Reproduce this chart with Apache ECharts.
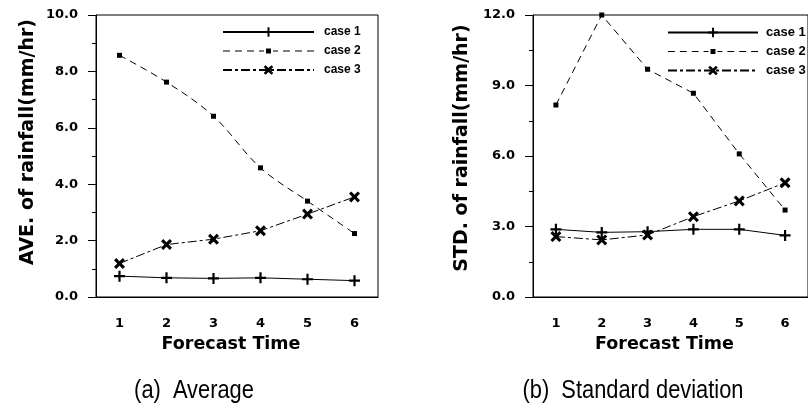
<!DOCTYPE html>
<html><head><meta charset="utf-8">
<script src="https://cdn.jsdelivr.net/npm/echarts@6/dist/echarts.min.js"></script>
<style>html,body{margin:0;padding:0;background:#fff}#c{width:808px;height:410px}</style>
</head><body><div id="c"></div>
<script>
const categories = ['1','2','3','4','5','6'];
const seriesNames = ['case 1','case 2','case 3'];
const aveCase1 = [0.74, 0.68, 0.66, 0.68, 0.63, 0.58];
const aveCase2 = [8.57, 7.62, 6.41, 4.58, 3.40, 2.25];
const aveCase3 = [1.19, 1.86, 2.05, 2.35, 2.94, 3.55];
const stdCase1 = [2.88, 2.75, 2.78, 2.88, 2.88, 2.62];
const stdCase2 = [8.17, 12.0, 9.69, 8.67, 6.09, 3.70];
const stdCase3 = [2.57, 2.43, 2.64, 3.42, 4.09, 4.86];
const aveTicks = {min: 0, max: 10, interval: 2};
const stdTicks = {min: 0, max: 12, interval: 3};
const xTitle = 'Forecast Time';
const aveTitle = 'AVE. of rainfall(mm/hr)';
const stdTitle = 'STD. of rainfall(mm/hr)';
const captionA = '(a)  Average';
const captionB = '(b)  Standard deviation';

const PLUS = 'path://M4,0 H6 V4 H10 V6 H6 V10 H4 V6 H0 V4 H4 Z';
const CROSS = 'path://M0,2 L2,0 L5,3 L8,0 L10,2 L7,5 L10,8 L8,10 L5,7 L2,10 L0,8 L3,5 Z';
// legend icon for case 2: dashed line with a small square in the middle
const DASH_SQ = 'path://M0,5.5h7v1h-7z M12,5.5h7v1h-7z M24,5.5h7v1h-7z M36,5.5h5v1h-5z M43,3.5h5v5h-5z M50,5.5h5v1h-5z M60,5.5h7v1h-7z M72,5.5h7v1h-7z M84,5.5h7v1h-7z';
const BOLD = "'DejaVu Sans', sans-serif";
const SANS = "'Liberation Sans', Arial, sans-serif";

function xAxis(gi) {
  return {
    type: 'category', gridIndex: gi, data: categories, boundaryGap: true,
    name: xTitle, nameLocation: 'middle', nameGap: 38,
    nameTextStyle: {fontFamily: BOLD, fontWeight: 'bold', fontSize: 17.5, color: '#000', padding: [0, 12, 0, 0]},
    axisLine: {lineStyle: {color: '#000', width: 1}},
    axisTick: {alignWithLabel: true, length: 7, lineStyle: {color: '#000'}},
    axisLabel: {fontFamily: BOLD, fontWeight: 'bold', fontSize: 13, color: '#000', margin: 20},
    splitLine: {show: false}
  };
}
function yAxis(gi, t, name, gap, shift) {
  return {
    type: 'value', gridIndex: gi, min: t.min, max: t.max, interval: t.interval,
    name: name, nameLocation: 'middle', nameGap: gap,
    nameTextStyle: {fontFamily: BOLD, fontWeight: 'bold', fontSize: 19, color: '#000', padding: [0, 0, 0, shift]},
    axisLine: {show: true, lineStyle: {color: '#000', width: 1}},
    axisTick: {show: true, length: 8, lineStyle: {color: '#000'}},
    minorTick: {show: true, splitNumber: 2, length: 4, lineStyle: {color: '#000'}},
    axisLabel: {fontFamily: BOLD, fontWeight: 'bold', fontSize: 13, color: '#000', margin: 18,
      formatter: v => v.toFixed(1)},
    splitLine: {show: false}
  };
}
function mk(name, data, gi, sym, size, lineType, smooth) {
  return {
    name: name, type: 'line', xAxisIndex: gi, yAxisIndex: gi, data: data,
    symbol: sym, symbolSize: size, smooth: smooth || false,
    lineStyle: {color: '#000', width: 1, type: lineType},
    itemStyle: {color: '#000'},
    emphasis: {disabled: true}, animation: false
  };
}
function legendData() {
  return seriesNames.map((n, i) => i === 1 ? {name: n, icon: DASH_SQ} : {name: n});
}
const chart = echarts.init(document.getElementById('c'), null, {renderer: 'canvas'});
chart.setOption({
  animation: false,
  grid: [
    {left: 96, top: 15, width: 282, height: 282, show: true, borderColor: '#000', borderWidth: 1},
    {left: 533, top: 15, width: 282, height: 282, show: true, borderColor: '#000', borderWidth: 1}
  ],
  xAxis: [xAxis(0), xAxis(1)],
  yAxis: [yAxis(0, aveTicks, aveTitle, 58, 28), yAxis(1, stdTicks, stdTitle, 61, 16)],
  legend: [
    {data: legendData(), orient: 'vertical', left: 222, top: 26, padding: 0,
     itemWidth: 91, itemHeight: 12, itemGap: 7, selectedMode: false,
     textStyle: {fontFamily: SANS, fontWeight: 'bold', fontSize: 12, color: '#000', padding: [0,0,0,5]}},
    {data: legendData(), orient: 'vertical', left: 667, top: 26, padding: 0,
     itemWidth: 90, itemHeight: 12, itemGap: 6, selectedMode: false,
     textStyle: {fontFamily: SANS, fontWeight: 'bold', fontSize: 13, color: '#000', padding: [0,0,0,3]}}
  ],
  series: [
    mk(seriesNames[0], aveCase1, 0, PLUS, 11, 'solid'),
    mk(seriesNames[1], aveCase2, 0, 'rect', 5, [7,5], 0.35),
    mk(seriesNames[2], aveCase3, 0, CROSS, 11, [9,3,3,3]),
    mk(seriesNames[0], stdCase1, 1, PLUS, 11, 'solid'),
    mk(seriesNames[1], stdCase2, 1, 'rect', 5, [7,5]),
    mk(seriesNames[2], stdCase3, 1, CROSS, 11, [9,3,3,3])
  ],
  graphic: [
    {type: 'text', x: 194, y: 391, scaleX: 0.84,
     style: {text: captionA, x: 0, y: 0, textAlign: 'center', textVerticalAlign: 'middle', fontFamily: SANS, fontSize: 26, fill: '#000'}},
    {type: 'text', x: 633, y: 391, scaleX: 0.84,
     style: {text: captionB, x: 0, y: 0, textAlign: 'center', textVerticalAlign: 'middle', fontFamily: SANS, fontSize: 26, fill: '#000'}}
  ]
});
</script></body></html>
